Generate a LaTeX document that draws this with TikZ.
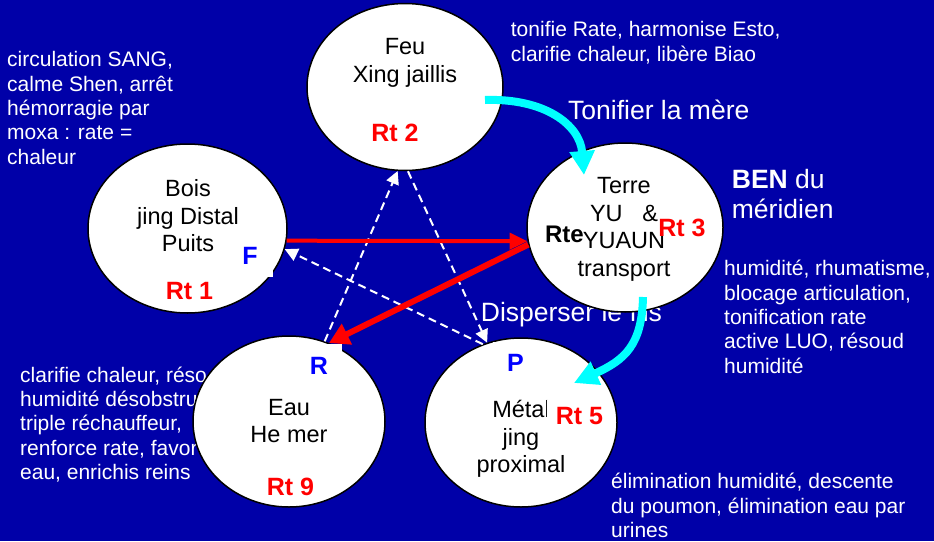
\documentclass[tikz,border=0pt]{standalone}
\usepackage{fontspec}
\setmainfont{Liberation Sans}
\usetikzlibrary{arrows.meta,shapes.geometric}
\definecolor{bgblue}{RGB}{0,0,168}
\definecolor{ptblue}{RGB}{0,0,255}
\definecolor{tocyan}{RGB}{0,255,255}

\begin{document}
\begin{tikzpicture}[x=1pt, y=-1pt,
                elem/.style={ellipse, draw=black, fill=white, line width=1.5pt, inner sep=0pt},
                inner/.style={font=\fontsize{23.5}{27.5}\selectfont, align=center, text=black, inner sep=0pt},
                rt/.style={font=\fontsize{25}{25}\selectfont\bfseries, text=red, inner sep=0pt},
                pointlbl/.style={font=\fontsize{25}{25}\selectfont\bfseries, text=ptblue, fill=white, minimum width=46pt, minimum height=43pt, inner sep=0pt},
                note/.style={font=\fontsize{21}{24.4}\selectfont, text=white, align=left, anchor=north west, inner sep=0pt},
                big/.style={font=\fontsize{26.5}{30}\selectfont, text=white, inner sep=0pt},
                redarrow/.style={draw=red, line width=4pt, -{Triangle[length=18pt,width=16pt]}},
                cyanarrow/.style={draw=tocyan, line width=8pt, -{Triangle[length=24pt,width=24pt]}},
                dasharrow/.style={draw=white, line width=2pt, dash pattern=on 8pt off 5pt, -{Triangle[length=13pt,width=13pt]}}
            ]

            \fill[bgblue] (0,0) rectangle (934,541);
            \useasboundingbox (0,0) rectangle (934,541);

            \node[note] (notebois) at (7,51.3) {circulation SANG,\\calme Shen, arrêt\\hémorragie par\\moxa : rate =\\chaleur};

            \node[note] (notefeu) at (510.7,21.5) {tonifie Rate, harmonise Esto,\\clarifie chaleur, libère Biao};

            \node[note] (noteterre) at (724,260.1) {humidité, rhumatisme,\\blocage articulation,\\tonification rate\\active LUO, résoud\\humidité};

            \node[note] (noteeau) at (20,366.5) {clarifie chaleur, réso\\humidité désobstru\\triple réchauffeur,\\renforce rate, favor\\eau, enrichis reins};

            \node[note] (notemetal) at (611,473) {élimination humidité, descente\\du poumon, élimination eau par\\urines};

            \node[big, anchor=base west] (tonifier) at (568,119.3) {Tonifier la mère};

            \node[big, anchor=base west] (disperser) at (480.7,321.7) {Disperser le fils};

            \node[big, anchor=north west, align=left] (ben) at (731.7,169.3) {\textbf{BEN} du\\méridien};

            \node[elem, minimum width=196, minimum height=167] (feu) at (405,87) {};

            \node[elem, minimum width=199, minimum height=169] (bois) at (187.5,228.5) {};

            \node[elem, minimum width=196, minimum height=169] (terre) at (625,227.5) {};

            \node[elem, minimum width=192, minimum height=171] (eau) at (289,421.5) {};

            \node[elem, minimum width=192, minimum height=169] (metal) at (521,422.5) {};

            \node[inner] (feuT) at (405,62.8) {Feu\\Xing jaillis};
            \node[inner] (boisT) at (188,216) {Bois\\jing Distal\\Puits};
            \node[inner] (terreT) at (624,229.3) {Terre\\YU\ \ \ \&\\YUAUN\\transport};
            \node[inner] (eauT) at (289,421) {Eau\\He mer};
            \node[inner] (metalT) at (521,439) {Métal\\jing\\proximal};

            \node[rt] (rt2) at (395,133) {Rt 2};
            \node[rt] (rt1) at (189.5,291.5) {Rt 1};
            \node[rt] (rt3) at (682,228) {Rt 3};
            \node[rt] (rt9) at (290.5,486.5) {Rt 9};
            \node[rt, fill=white, minimum width=65, minimum height=34] (rt5) at (579.5,416.5) {Rt 5};
            \node[font=\fontsize{24}{24}\selectfont\bfseries, inner sep=0pt] (rte) at (564.5,234) {Rte};

            \node[pointlbl] (lblF) at (250,255.5) {F};
            \node[pointlbl] (lblR) at (319,365.5) {R};
            \node[pointlbl] (lblP) at (515.5,363) {P};

            \draw[dasharrow] (eau.66) -- (feu.-95);
            \draw[dasharrow] (feu.-88) -- (metal.113);
            \draw[dasharrow] (metal.116) -- (bois.-12);

            \draw[redarrow] (bois.-7) -- (terre.188);
            \draw[redarrow, line width=6pt, -{Triangle[length=20pt,width=22pt]}] (terre.190) -- (eau.63);

            \coordinate (tonA) at (485,100);
            \coordinate (tonB) at (584,175);
            \coordinate (disA) at (643,297);
            \coordinate (disB) at (574,383);

            \draw[cyanarrow] (tonA) .. controls (545,98) and (580,125) .. (tonB);
            \draw[cyanarrow] (disA) .. controls (642,345) and (625,360) .. (disB);

        \end{tikzpicture}
\end{document}
